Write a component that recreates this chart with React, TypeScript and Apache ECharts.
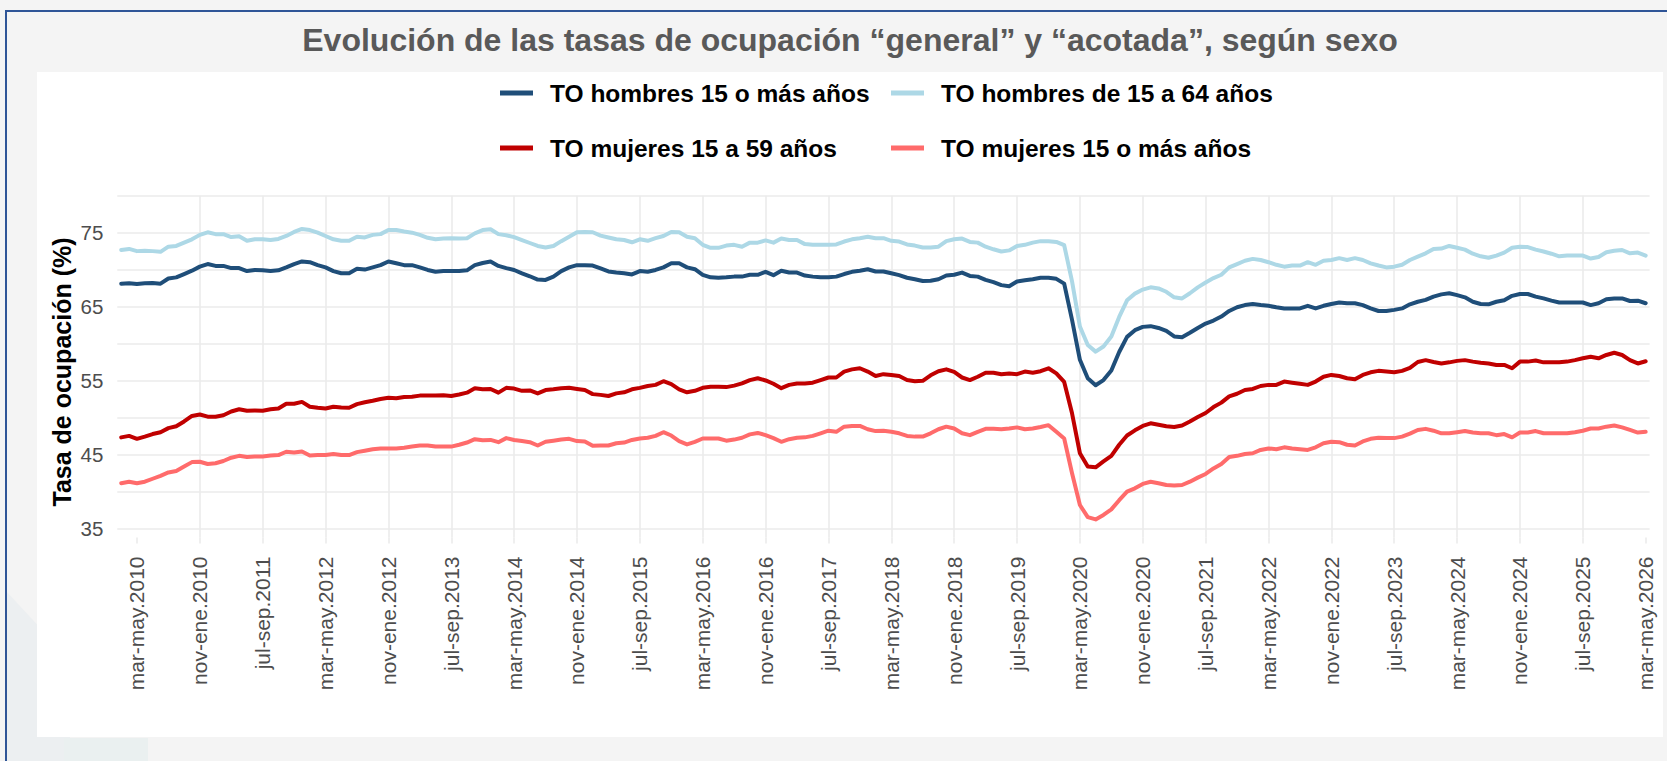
import React, { useEffect, useRef } from 'react';
import * as echarts from 'echarts';

// x positions: month offset from "mar-may.2010" (first value = ene-mar.2010 = -2)
const FIRST_OFFSET = -2;

const TICK_LABELS = [
  'mar-may.2010', 'nov-ene.2010', 'jul-sep.2011', 'mar-may.2012', 'nov-ene.2012',
  'jul-sep.2013', 'mar-may.2014', 'nov-ene.2014', 'jul-sep.2015', 'mar-may.2016',
  'nov-ene.2016', 'jul-sep.2017', 'mar-may.2018', 'nov-ene.2018', 'jul-sep.2019',
  'mar-may.2020', 'nov-ene.2020', 'jul-sep.2021', 'mar-may.2022', 'nov-ene.2022',
  'jul-sep.2023', 'mar-may.2024', 'nov-ene.2024', 'jul-sep.2025', 'mar-may.2026',
];

const Y_LABELS = [35, 45, 55, 65, 75];

const NAME_H15 = 'TO hombres 15 o más años';
const NAME_H1564 = 'TO hombres de 15 a 64 años';
const NAME_M1559 = 'TO mujeres 15 a 59 años';
const NAME_M15 = 'TO mujeres 15 o más años';

const H15 = [
  68.1, 68.15, 68.05, 68.15, 68.2, 68.1, 68.8, 68.95, 69.4, 69.85,
  70.4, 70.75, 70.5, 70.5, 70.2, 70.2, 69.8, 69.95, 69.9, 69.8,
  69.9, 70.3, 70.75, 71.1, 71.0, 70.6, 70.3, 69.8, 69.5, 69.5,
  70.1, 70.0, 70.3, 70.6, 71.1, 70.85, 70.6, 70.6, 70.3, 69.95,
  69.7, 69.8, 69.8, 69.8, 69.9, 70.6, 70.9, 71.1, 70.5, 70.2,
  69.95, 69.5, 69.1, 68.65, 68.6, 69.05, 69.8, 70.3, 70.6, 70.6,
  70.55, 70.15, 69.75, 69.6, 69.5, 69.35, 69.8, 69.7, 69.95, 70.3,
  70.85, 70.85, 70.3, 70.05, 69.3, 68.95, 68.9, 68.95, 69.05, 69.05,
  69.3, 69.3, 69.7, 69.25, 69.85, 69.6, 69.6, 69.2, 69.05, 68.95,
  68.95, 69.05, 69.4, 69.7, 69.85, 70.05, 69.75, 69.75, 69.5, 69.25,
  68.9, 68.7, 68.45, 68.5, 68.7, 69.2, 69.3, 69.6, 69.15, 69.05,
  68.6, 68.3, 67.9, 67.75, 68.4, 68.55, 68.7, 68.9, 68.9, 68.75,
  68.1, 63.2, 57.8, 55.3, 54.35, 55.05, 56.35, 58.85, 60.9, 61.8,
  62.25, 62.35, 62.1, 61.7, 60.95, 60.85, 61.45, 62.1, 62.7, 63.1,
  63.65, 64.4, 64.9, 65.2, 65.35, 65.2, 65.1, 64.9, 64.75, 64.75,
  64.75, 65.1, 64.75, 65.1, 65.35, 65.55, 65.45, 65.45, 65.2, 64.75,
  64.4, 64.4, 64.55, 64.75, 65.3, 65.65, 65.9, 66.35, 66.65, 66.8,
  66.55, 66.25, 65.65, 65.35, 65.3, 65.65, 65.85, 66.45, 66.7, 66.7,
  66.35, 66.1, 65.8, 65.55, 65.55, 65.55, 65.55, 65.2, 65.45, 66.0,
  66.1, 66.1, 65.75, 65.8, 65.45,
];

const H1564 = [
  72.65, 72.8, 72.5, 72.55, 72.5, 72.4, 73.1, 73.2, 73.65, 74.1,
  74.7, 75.05, 74.8, 74.8, 74.4, 74.5, 73.9, 74.1, 74.1, 74.0,
  74.15, 74.55, 75.1, 75.5, 75.35, 75.0, 74.55, 74.1, 73.9, 73.9,
  74.45, 74.35, 74.7, 74.8, 75.35, 75.35, 75.15, 75.0, 74.7, 74.3,
  74.1, 74.2, 74.25, 74.2, 74.25, 74.9, 75.35, 75.45, 74.8, 74.65,
  74.4, 74.0, 73.6, 73.2, 73.0, 73.2, 73.85, 74.45, 75.05, 75.1,
  75.05, 74.6, 74.35, 74.1, 74.0, 73.7, 74.1, 73.9, 74.25, 74.55,
  75.1, 75.05, 74.45, 74.25, 73.35, 72.95, 72.95, 73.25, 73.35, 73.1,
  73.65, 73.65, 73.95, 73.65, 74.2, 74.0, 74.0, 73.45, 73.35, 73.35,
  73.35, 73.4, 73.8, 74.1, 74.25, 74.45, 74.25, 74.25, 73.9, 73.8,
  73.4, 73.25, 73.0, 73.0, 73.1, 73.85, 74.1, 74.2, 73.75, 73.65,
  73.1, 72.75, 72.45, 72.6, 73.2, 73.35, 73.65, 73.85, 73.85, 73.75,
  73.3, 68.4, 62.3, 59.8, 58.9, 59.6, 60.95, 63.6, 65.85, 66.75,
  67.3, 67.6, 67.45, 67.0, 66.25, 66.1, 66.8, 67.6, 68.25, 68.85,
  69.3, 70.3, 70.75, 71.2, 71.45, 71.3, 71.0, 70.65, 70.4, 70.55,
  70.55, 71.0, 70.65, 71.2, 71.3, 71.55, 71.3, 71.55, 71.3, 70.85,
  70.55, 70.3, 70.4, 70.65, 71.3, 71.75, 72.2, 72.8, 72.85, 73.2,
  72.95, 72.7, 72.15, 71.8, 71.6, 71.9, 72.3, 72.95, 73.1, 73.05,
  72.7, 72.45, 72.15, 71.8, 71.9, 71.9, 71.9, 71.5, 71.7, 72.35,
  72.55, 72.65, 72.2, 72.3, 71.9,
];

const M1559 = [
  47.3, 47.5, 47.1, 47.4, 47.75, 48.0, 48.55, 48.8, 49.45, 50.2,
  50.4, 50.1, 50.1, 50.3, 50.8, 51.1, 50.9, 50.95, 50.9, 51.1,
  51.2, 51.85, 51.85, 52.1, 51.45, 51.3, 51.2, 51.45, 51.35, 51.3,
  51.8, 52.05, 52.25, 52.5, 52.65, 52.6, 52.75, 52.8, 52.95, 52.95,
  52.95, 53.0, 52.9, 53.1, 53.35, 53.95, 53.8, 53.85, 53.35, 54.0,
  53.9, 53.6, 53.65, 53.25, 53.7, 53.8, 53.95, 54.0, 53.85, 53.7,
  53.15, 53.05, 52.9, 53.25, 53.4, 53.8, 54.0, 54.25, 54.4, 54.9,
  54.5, 53.8, 53.4, 53.6, 54.0, 54.15, 54.15, 54.1, 54.3, 54.6,
  55.05, 55.3, 55.0, 54.55, 53.95, 54.4, 54.6, 54.6, 54.7, 55.05,
  55.4, 55.4, 56.2, 56.5, 56.65, 56.2, 55.6, 55.85, 55.75, 55.6,
  55.05, 54.9, 54.95, 55.7, 56.25, 56.5, 56.15, 55.4, 55.05, 55.5,
  56.05, 56.05, 55.85, 55.95, 55.85, 56.2, 56.05, 56.25, 56.65, 55.95,
  54.8, 50.55, 45.15, 43.35, 43.25, 44.05, 44.8, 46.3, 47.55, 48.25,
  48.85, 49.2, 49.0, 48.8, 48.7, 48.9, 49.45, 50.05, 50.6, 51.4,
  52.0, 52.85, 53.2, 53.7, 53.85, 54.25, 54.4, 54.4, 54.85, 54.7,
  54.55, 54.4, 54.85, 55.5, 55.75, 55.6, 55.3, 55.15, 55.75, 56.1,
  56.3, 56.2, 56.1, 56.3, 56.7, 57.5, 57.75, 57.5, 57.3, 57.45,
  57.65, 57.75, 57.55, 57.4, 57.3, 57.1, 57.1, 56.65, 57.55, 57.55,
  57.7, 57.45, 57.45, 57.45, 57.55, 57.75, 58.0, 58.2, 58.0, 58.45,
  58.75, 58.45, 57.75, 57.3, 57.6,
];

const M15 = [
  41.1, 41.3, 41.1, 41.3, 41.7, 42.1, 42.55, 42.75, 43.35, 43.95,
  44.0, 43.7, 43.8, 44.1, 44.55, 44.8, 44.65, 44.7, 44.7, 44.85,
  44.9, 45.35, 45.25, 45.4, 44.85, 44.9, 44.9, 45.05, 44.9, 44.9,
  45.3, 45.5, 45.7, 45.8, 45.8, 45.8, 45.9, 46.05, 46.2, 46.2,
  46.05, 46.05, 46.05, 46.3, 46.6, 47.05, 46.9, 46.95, 46.65, 47.2,
  46.95, 46.8, 46.65, 46.2, 46.7, 46.85, 47.0, 47.1, 46.8, 46.75,
  46.15, 46.2, 46.2, 46.5, 46.6, 46.95, 47.15, 47.25, 47.5, 48.0,
  47.55, 46.8, 46.35, 46.7, 47.15, 47.15, 47.15, 46.85, 47.0, 47.25,
  47.7, 47.9, 47.6, 47.2, 46.7, 47.05, 47.25, 47.3, 47.5, 47.85,
  48.2, 48.05, 48.75, 48.85, 48.85, 48.4, 48.15, 48.2, 48.05, 47.85,
  47.5, 47.4, 47.4, 47.85, 48.4, 48.75, 48.5, 47.85, 47.6, 48.05,
  48.45, 48.45, 48.4, 48.5, 48.65, 48.4, 48.5, 48.7, 48.95, 48.05,
  47.15, 42.45, 38.15, 36.5, 36.2, 36.8, 37.55, 38.8, 39.95, 40.4,
  41.0, 41.3, 41.1, 40.85, 40.8, 40.85, 41.3, 41.85, 42.35, 43.1,
  43.7, 44.65, 44.8, 45.05, 45.15, 45.6, 45.8, 45.7, 45.95, 45.8,
  45.7, 45.6, 45.95, 46.5, 46.7, 46.65, 46.3, 46.2, 46.75, 47.1,
  47.25, 47.2, 47.2, 47.4, 47.8, 48.3, 48.45, 48.2, 47.85, 47.85,
  48.0, 48.15, 47.95, 47.85, 47.85, 47.6, 47.75, 47.3, 47.95, 47.95,
  48.15, 47.85, 47.85, 47.85, 47.85, 48.0, 48.2, 48.5, 48.5, 48.75,
  48.9, 48.65, 48.3, 47.95, 48.05,
];

const COLORS = {
  h15: '#1F4E79',
  h1564: '#ADD8E6',
  m1559: '#C00000',
  m15: '#FF6B6B',
};

const toPoints = (arr: number[]) => arr.map((v, k) => [k + FIRST_OFFSET, v]);

const FONT = '"Liberation Sans", Arial, sans-serif';

function buildOption() {
  const tickValues = TICK_LABELS.map((_, i) => i * 8);
  const legendBase = {
    icon: 'rect',
    itemWidth: 33,
    itemHeight: 5,
    padding: 0,
    selectedMode: false,
    textStyle: {
      fontFamily: FONT,
      fontWeight: 'bold',
      fontSize: 24.5,
      color: '#000',
      lineHeight: 26,
      padding: [0, 0, 0, 12],
    },
  };
  const mkSeries = (name: string, data: number[], color: string) => ({
    name,
    type: 'line',
    data: toPoints(data),
    showSymbol: false,
    symbol: 'none',
    lineStyle: { width: 4, color, cap: 'round', join: 'round' },
    itemStyle: { color },
    emphasis: { disabled: true },
  });
  return {
    animation: false,
    backgroundColor: 'transparent',
    graphic: [
      {
        type: 'text',
        x: 850,
        y: 40,
        style: {
          text: 'Evolución de las tasas de ocupación “general” y “acotada”, según sexo',
          font: 'bold 32px "Liberation Sans", Arial, sans-serif',
          fill: '#595959',
          align: 'center',
          verticalAlign: 'middle',
        },
      },
      {
        type: 'text',
        x: 62,
        y: 372,
        rotation: Math.PI / 2,
        style: {
          text: 'Tasa de ocupación (%)',
          font: 'bold 25px "Liberation Sans", Arial, sans-serif',
          fill: '#000',
          align: 'center',
          verticalAlign: 'middle',
        },
      },
    ],
    legend: [
      { ...legendBase, data: [NAME_H15], left: 500, top: 80 },
      { ...legendBase, data: [NAME_H1564], left: 891, top: 80 },
      { ...legendBase, data: [NAME_M1559], left: 500, top: 135 },
      { ...legendBase, data: [NAME_M15], left: 891, top: 135 },
    ],
    grid: {
      left: 117.3,
      top: 195.7,
      right: 17.4,
      bottom: 223.5,
      containLabel: false,
      outerBoundsMode: 'none',
    },
    xAxis: {
      type: 'value',
      min: -2.5,
      max: 192.5,
      minInterval: 8,
      maxInterval: 8,
      axisLine: { show: false },
      axisTick: {
        show: true,
        length: 6,
        customValues: tickValues,
        lineStyle: { color: '#EBEBEB', width: 1.6 },
      },
      axisLabel: {
        customValues: tickValues,
        rotate: 90,
        margin: 19,
        fontFamily: FONT,
        fontSize: 21,
        color: '#4D4D4D',
        formatter: (v: number) => {
          if (Math.abs(v % 8) > 1e-6) return '';
          return TICK_LABELS[Math.round(v / 8)] ?? '';
        },
      },
      splitLine: {
        show: true,
        showMinLine: false,
        showMaxLine: false,
        lineStyle: { color: '#EBEBEB', width: 1.6 },
      },
    },
    yAxis: {
      type: 'value',
      min: 33.75,
      max: 80,
      minInterval: 5,
      maxInterval: 5,
      axisLine: { show: false },
      axisTick: { show: false },
      axisLabel: {
        margin: 14,
        fontFamily: FONT,
        fontSize: 20.5,
        color: '#4D4D4D',
        formatter: (v: number) => {
          const r = Math.round(v * 100) / 100;
          return Y_LABELS.includes(r) ? String(r) : '';
        },
      },
      splitLine: {
        show: true,
        showMinLine: false,
        lineStyle: { color: '#EBEBEB', width: 1.6 },
      },
    },
    series: [
      mkSeries(NAME_H15, H15, COLORS.h15),
      mkSeries(NAME_H1564, H1564, COLORS.h1564),
      mkSeries(NAME_M1559, M1559, COLORS.m1559),
      mkSeries(NAME_M15, M15, COLORS.m15),
    ],
  };
}

export default function App() {
  const ref = useRef<HTMLDivElement>(null);
  useEffect(() => {
    if (!ref.current) return;
    const chart = echarts.init(ref.current, null, { renderer: 'svg' });
    chart.setOption(buildOption() as any);
    return () => chart.dispose();
  }, []);
  return (
    <div
      style={{
        position: 'fixed',
        left: 0,
        top: 0,
        width: 1667,
        height: 761,
        background: '#F4F4F4',
        overflow: 'hidden',
      }}
    >
      <svg
        width={1667}
        height={761}
        style={{ position: 'absolute', left: 0, top: 0 }}
      >
        <polygon points="5,590 70,660 70,761 5,761" fill="#ECEFF1" />
        <rect x={64} y={738} width={84} height={23} fill="#EAF0F0" />
      </svg>
      <div
        style={{
          position: 'absolute',
          left: 5,
          top: 10,
          width: 1662,
          height: 1.5,
          background: '#2F5597',
        }}
      />
      <div
        style={{
          position: 'absolute',
          left: 5,
          top: 10,
          width: 1.5,
          height: 751,
          background: '#2F5597',
        }}
      />
      <div
        style={{
          position: 'absolute',
          left: 37,
          top: 72,
          width: 1626,
          height: 665,
          background: '#FFFFFF',
        }}
      />
      <div
        ref={ref}
        style={{ position: 'absolute', left: 0, top: 0, width: 1667, height: 761 }}
      />
    </div>
  );
}
